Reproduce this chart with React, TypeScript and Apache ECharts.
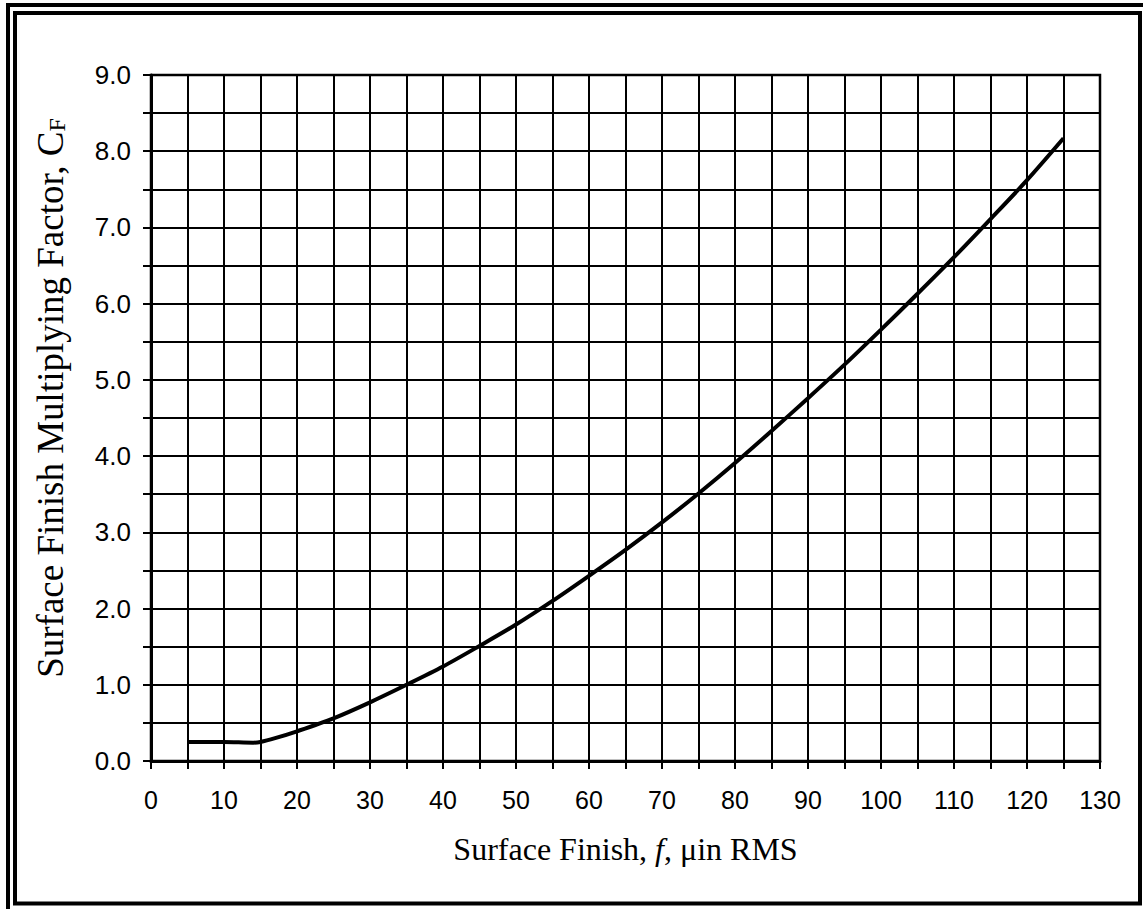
import React, { useEffect, useRef } from "react";
import * as echarts from "echarts";

const finish = [5, 10, 14, 15, 17, 20, 25, 30, 35, 40, 45, 50, 55, 60, 65, 70, 75, 80, 85, 90, 95, 100, 105, 110, 115, 120, 125];
const factor = [0.25, 0.25, 0.24, 0.25, 0.3, 0.39, 0.56, 0.77, 1.0, 1.24, 1.51, 1.79, 2.1, 2.43, 2.77, 3.13, 3.51, 3.91, 4.33, 4.76, 5.2, 5.66, 6.13, 6.61, 7.11, 7.62, 8.17];

const xTitleParts = ["Surface Finish, ", "f", ", \u03bcin RMS"];
const yTitleParts = ["Surface Finish Multiplying Factor, C", "F"];

export default function App() {
  const ref = useRef<HTMLDivElement>(null);
  useEffect(() => {
    if (!ref.current) return;
    const chart = echarts.init(ref.current, null, { renderer: "svg" });
    const serif = "'Liberation Serif', 'Times New Roman', serif";
    const sans = "'Liberation Sans', Arial, sans-serif";
    chart.setOption({
      animation: false,
      backgroundColor: "#fff",
      grid: {
        left: 151,
        right: 43,
        top: 75,
        bottom: 148,
        show: true,
        borderColor: "#000",
        borderWidth: 2.5,
        containLabel: false,
      },
      graphic: [
        {
          type: "rect",
          shape: { x: 8, y: 5, width: 1200, height: 1000 },
          style: { fill: "none", stroke: "#000", lineWidth: 4 },
          silent: true,
        },
        {
          type: "rect",
          shape: { x: 15, y: 13, width: 1125, height: 890.5 },
          style: { fill: "none", stroke: "#000", lineWidth: 4 },
          silent: true,
        },
        {
          type: "text",
          x: 50,
          y: 398,
          rotation: Math.PI / 2,
          silent: true,
          style: {
            text: `{a|${yTitleParts[0]}}{s|${yTitleParts[1]}}`,
            align: "center",
            verticalAlign: "middle",
            rich: {
              a: { fontFamily: serif, fontSize: 37, fill: "#000" },
              s: { fontFamily: serif, fontSize: 24, fill: "#000", verticalAlign: "bottom" },
            },
          },
        },
      ],
      xAxis: {
        type: "value",
        min: 0,
        max: 130,
        interval: 5,
        name: `{a|${xTitleParts[0]}}{i|${xTitleParts[1]}}{a|${xTitleParts[2]}}`,
        nameLocation: "middle",
        nameGap: 72,
        nameTextStyle: {
          rich: {
            a: { fontFamily: serif, fontSize: 32, color: "#000" },
            i: { fontFamily: serif, fontSize: 32, fontStyle: "italic", color: "#000" },
          },
        },
        axisLine: { show: true, onZero: false, lineStyle: { color: "#000", width: 3 } },
        axisTick: { show: true, length: 8, lineStyle: { color: "#000", width: 2 } },
        axisLabel: {
          margin: 26,
          fontFamily: sans,
          fontSize: 25,
          color: "#000",
          formatter: (v: number) => (v % 10 === 0 ? String(v) : ""),
        },
        splitLine: { show: true, lineStyle: { color: "#000", width: 2 } },
      },
      yAxis: {
        type: "value",
        min: 0,
        max: 9,
        interval: 0.5,
        axisLine: { show: true, onZero: false, lineStyle: { color: "#000", width: 3 } },
        axisTick: { show: true, length: 8, lineStyle: { color: "#000", width: 2 } },
        axisLabel: {
          margin: 20,
          fontFamily: sans,
          fontSize: 26,
          color: "#000",
          formatter: (v: number) => (Math.abs(v % 1) < 1e-9 ? v.toFixed(1) : ""),
        },
        splitLine: { show: true, lineStyle: { color: "#000", width: 2 } },
      },
      series: [
        {
          type: "line",
          data: finish.map((x, i) => [x, factor[i]]),
          smooth: 0.3,
          showSymbol: false,
          lineStyle: { color: "#000", width: 4 },
          silent: true,
        },
      ],
    });
    return () => chart.dispose();
  }, []);
  return (
    <div
      ref={ref}
      style={{ position: "absolute", left: 0, top: 0, width: 1143, height: 909, background: "#fff" }}
    />
  );
}
